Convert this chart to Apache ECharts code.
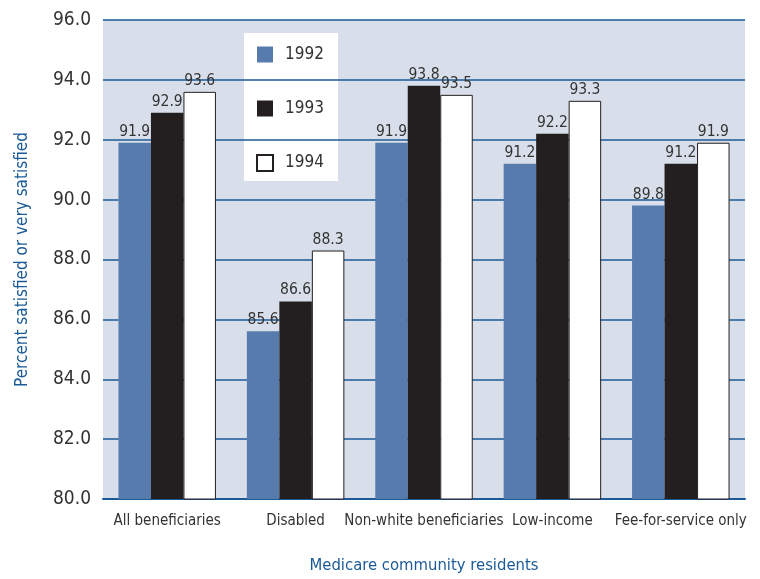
<!DOCTYPE html>
<html>
<head>
<meta charset="utf-8">
<script src="https://cdn.jsdelivr.net/npm/echarts@6/dist/echarts.min.js"></script>
<style>
  html, body { margin: 0; padding: 0; background: #fff; }
  #chart { width: 760px; height: 579px; }
</style>
</head>
<body>
<div id="chart"></div>
<script>
// categories along the bottom
var categories = ['All beneficiaries', 'Disabled', 'Non-white beneficiaries', 'Low-income', 'Fee-for-service only'];
// percent satisfied, per year
var years = ['1992', '1993', '1994'];
var v1992 = [91.9, 85.6, 91.9, 91.2, 89.8];
var v1993 = [92.9, 86.6, 93.8, 92.2, 91.2];
var v1994 = [93.6, 88.3, 93.5, 93.3, 91.9];

var FONT = "'DejaVu Sans Condensed', 'Liberation Sans Narrow', sans-serif";
var BLUE = '#1b5a97';

var chart = echarts.init(document.getElementById('chart'));

function barSeries(name, data, color, border) {
	return {
		name : name,
		type : 'bar',
		data : data,
		barWidth : 32.5,
		barGap : '0%',
		itemStyle : {
			color : color,
			borderColor : border || color,
			borderWidth : border ? 1 : 0
		},
		label : {
			show : true,
			position : 'top',
			distance : 3,
			color : '#333',
			fontSize : 15.5,
			fontFamily : FONT,
			formatter : function(p) { return p.value.toFixed(1); }
		}
	};
}

var option = {
	animation : false,
	textStyle : { fontFamily : FONT },
	graphic : [
		// plot background
		{ type : 'rect', z : -10, shape : { x : 103, y : 20, width : 642, height : 480 }, style : { fill : '#d9dfea' } },
		// legend box (sits under the grid lines)
		{ type : 'rect', z : -9, shape : { x : 244, y : 33, width : 94, height : 148 }, style : { fill : '#ffffff' } }
	],
	grid : { left : 103, right : 15, top : 20, bottom : 79 },
	legend : {
		orient : 'vertical',
		left : 256,
		top : 46,
		padding : 0,
		itemWidth : 16,
		itemHeight : 16,
		itemGap : 37,
		icon : 'rect',
		textStyle : { color : '#333', fontSize : 17, fontFamily : FONT, padding : [0, 0, 0, 7] },
		data : years
	},
	xAxis : {
		type : 'category',
		data : categories,
		name : 'Medicare community residents',
		nameLocation : 'middle',
		nameGap : 58,
		nameTextStyle : { color : BLUE, fontSize : 16.5, fontFamily : FONT },
		axisLine : { lineStyle : { color : BLUE, width : 2 } },
		axisTick : { show : false },
		axisLabel : { color : '#333', fontSize : 15, fontFamily : FONT, margin : 15, interval : 0 }
	},
	yAxis : {
		type : 'value',
		min : 80,
		max : 96,
		interval : 2,
		name : 'Percent satisfied or very satisfied',
		nameLocation : 'middle',
		nameGap : 72,
		nameTextStyle : { color : BLUE, fontSize : 17, fontFamily : FONT },
		axisLine : { show : false },
		axisTick : { show : false },
		splitLine : { lineStyle : { color : BLUE, width : 1.5 } },
		axisLabel : {
			color : '#333',
			fontSize : 19,
			fontFamily : FONT,
			margin : 12,
			formatter : function(v) { return v.toFixed(1); }
		}
	},
	series : [
		barSeries(years[0], v1992, '#587bae'),
		barSeries(years[1], v1993, '#231f20'),
		barSeries(years[2], v1994, '#ffffff', '#231f20')
	]
};
chart.setOption(option);
</script>
</body>
</html>
